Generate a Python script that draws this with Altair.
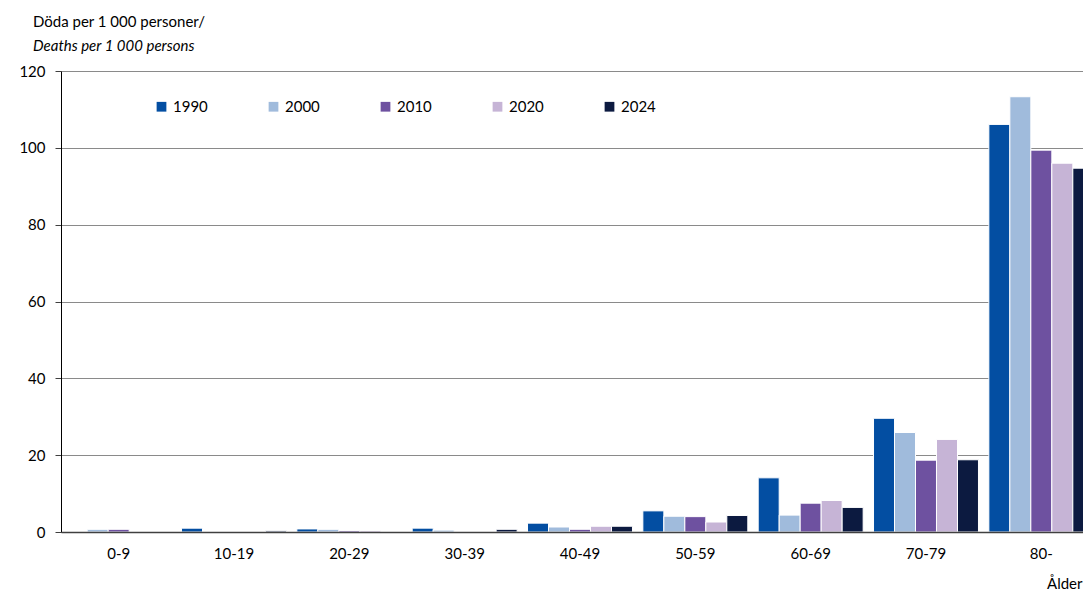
import altair as alt
import pandas as pd

ages = ["0-9", "10-19", "20-29", "30-39", "40-49", "50-59", "60-69", "70-79", "80-"]
years = ["1990", "2000", "2010", "2020", "2024"]
v1990 = [0.0, 1.0, 0.8, 1.0, 2.3, 5.5, 14.1, 29.6, 106.1]
v2000 = [0.7, 0.0, 0.7, 0.5, 1.3, 4.1, 4.4, 25.9, 113.3]
v2010 = [0.7, 0.0, 0.4, 0.0, 0.7, 4.0, 7.5, 18.7, 99.4]
v2020 = [0.0, 0.0, 0.4, 0.0, 1.5, 2.6, 8.2, 24.1, 96.0]
v2024 = [0.0, 0.3, 0.0, 0.7, 1.5, 4.3, 6.4, 18.8, 94.7]
colors = ["#034EA2", "#A0BBDC", "#6E51A0", "#C6B4D6", "#0C1A40"]

series = [v1990, v2000, v2010, v2020, v2024]
rows = []
for y, vals in zip(years, series):
    for a, v in zip(ages, vals):
        rows.append({"age": a, "year": y, "value": v})
df = pd.DataFrame(rows)

FONT = "Lato"

chart = alt.Chart(df).mark_bar(stroke="white", strokeWidth=1).encode(
    x=alt.X("age:N", sort=ages,
            scale=alt.Scale(paddingInner=0.09, paddingOuter=0.045, range=[0, 1038]),
            axis=alt.Axis(title="Ålder", labelAngle=0, ticks=False, labelPadding=14,
                          labelFont=FONT, labelFontSize=15, labelColor="black",
                          domainColor="#404040", domainWidth=1.5, zindex=1,
                          titleFont=FONT, titleFontSize=15, titleFontWeight="normal",
                          titleColor="black", titleAlign="right", titleAnchor="end",
                          titleX=1021, titleY=56, titleBaseline="alphabetic")),
    xOffset=alt.XOffset("year:N", sort=years, scale=alt.Scale(paddingInner=0, paddingOuter=0)),
    y=alt.Y("value:Q",
            scale=alt.Scale(domain=[0, 120], nice=False),
            axis=alt.Axis(title=None, values=[0, 20, 40, 60, 80, 100, 120],
                          labelFont=FONT, labelFontSize=15, labelColor="black",
                          labelPadding=10, tickSize=6, tickColor="#404040",
                          domainColor="black", domainWidth=1,
                          gridColor="#8a8a8a", gridWidth=1)),
    color=alt.Color("year:N", sort=years,
                    scale=alt.Scale(domain=years, range=colors),
                    legend=alt.Legend(title=None, orient="none", legendX=93, legendY=28,
                                      direction="horizontal", symbolType="square",
                                      symbolSize=95, symbolStrokeWidth=0,
                                      labelFont=FONT, labelFontSize=15, labelColor="black",
                                      labelOffset=4, columnPadding=58)),
).properties(
    width=1022, height=461,
    autosize=alt.AutoSizeParams(type="none"),
    title=alt.TitleParams(text="Döda per 1 000 personer/",
                          subtitle="Deaths per 1 000 persons",
                          anchor="start", frame="group", dx=-28,
                          font=FONT, fontSize=15, fontWeight="normal", color="black",
                          subtitleFont=FONT, subtitleFontSize=15, subtitleFontStyle="italic",
                          subtitleColor="black", subtitlePadding=9, offset=10),
    padding={"left": 53, "top": 63, "right": 0, "bottom": 58},
).configure_view(stroke=None)

chart.save("out.html", embed_options={"renderer": "svg", "actions": False})
